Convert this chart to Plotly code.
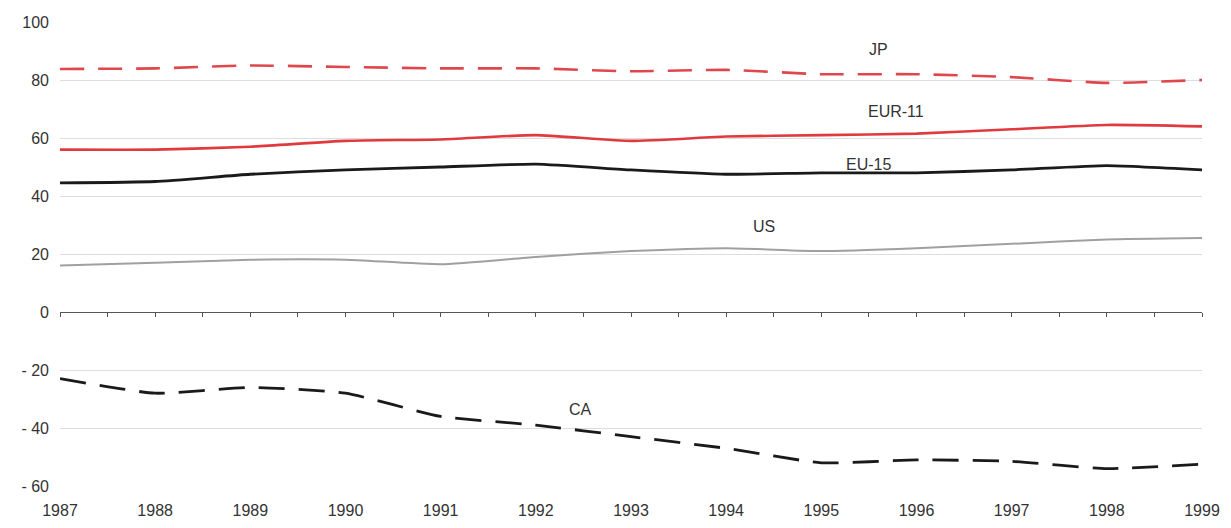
import plotly.graph_objects as go

years = list(range(1987, 2000))
jp = [83.8, 84, 85, 84.5, 84, 84, 83, 83.5, 82, 82, 81, 79, 80]
eur11 = [56, 56, 57, 59, 59.5, 61, 59, 60.5, 61, 61.5, 63, 64.5, 64]
eu15 = [44.5, 45, 47.5, 49, 50, 51, 49, 47.5, 48, 48, 49, 50.5, 49]
us = [16, 17, 18, 18, 16.5, 19, 21, 22, 21, 22, 23.5, 25, 25.5]
ca = [-23, -28, -26, -28, -36, -39, -43, -47, -52, -51, -51.5, -54, -52.5]

ytick_vals = [100, 80, 60, 40, 20, 0, -20, -40, -60]
ytick_text = ["100", "80", "60", "40", "20", "0", "- 20", "- 40", "- 60"]

labels = [("JP", 1995.6, 90.5), ("EUR-11", 1995.78, 69), ("EU-15", 1995.5, 51),
          ("US", 1994.4, 29.5), ("CA", 1992.47, -33.5)]

FONT = "Liberation Sans, Arial, sans-serif"

fig = go.Figure()
series = [
    (jp, "#e0474c", "24px,14px", 2.6),
    (eur11, "#e03a3e", "solid", 2.6),
    (eu15, "#1a1a1a", "solid", 2.8),
    (us, "#a0a0a0", "solid", 2.0),
    (ca, "#1a1a1a", "26px,14px", 2.8),
]
for vals, col, dash, w in series:
    fig.add_trace(go.Scatter(x=years, y=vals, mode="lines",
                             line=dict(color=col, width=w, dash=dash, shape="spline", smoothing=0.5),
                             showlegend=False, hoverinfo="skip"))

# invisible trace to render the zero-line tick axis
fig.add_trace(go.Scatter(x=[years[0], years[-1]], y=[0, 0], xaxis="x2", mode="lines",
                         line=dict(width=0), showlegend=False, hoverinfo="skip", opacity=0))

for text, x, y in labels:
    fig.add_annotation(x=x, y=y, text=text, showarrow=False,
                       font=dict(family=FONT, size=16, color="#333333"))

fig.update_layout(
    width=1231, height=528,
    margin=dict(l=52, r=37, t=14, b=50, autoexpand=False),
    paper_bgcolor="white", plot_bgcolor="white",
    font=dict(family=FONT, size=16, color="#333333"),
    xaxis=dict(range=[1987, 1999], tickvals=years, ticktext=[str(y) for y in years],
               showgrid=False, zeroline=False, showline=False, ticks="",
               ticklabelstandoff=13, automargin=False,
               tickfont=dict(size=16, color="#333333")),
    xaxis2=dict(range=[1987, 1999], overlaying="x", anchor="free", position=0.375,
                showgrid=False, zeroline=False, showline=True, linecolor="#555555", linewidth=1.3,
                ticks="outside", ticklen=4, tickwidth=1, tickcolor="#555555",
                dtick=0.5, tick0=1987, showticklabels=False),
    yaxis=dict(range=[-60, 100], tickvals=ytick_vals, ticktext=ytick_text,
               showgrid=True, gridcolor="#dddddd", gridwidth=1, zeroline=False,
               showline=False, ticks="", ticklabelstandoff=10, automargin=False,
               tickfont=dict(size=16, color="#333333")),
)

fig.write_html("out.html")
